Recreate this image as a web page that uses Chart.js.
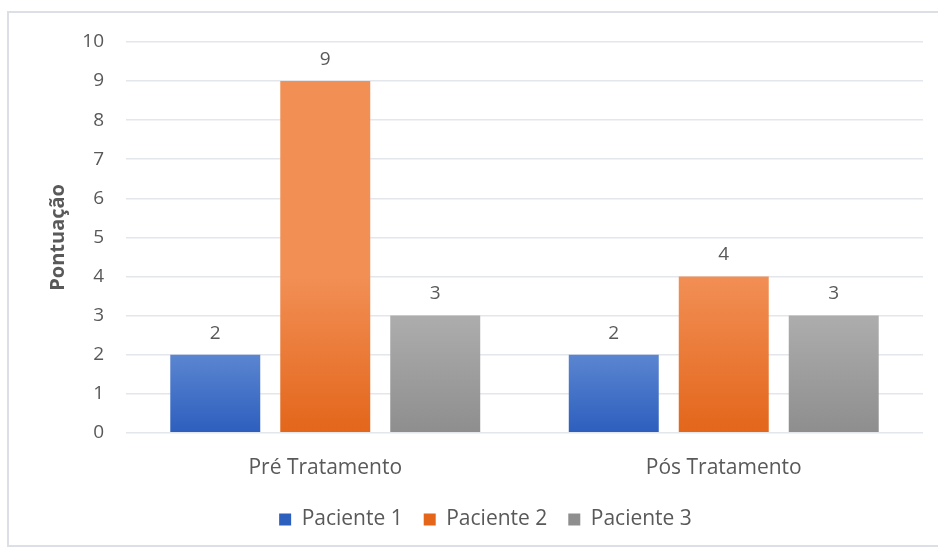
<!DOCTYPE html>
<html>
<head>
<meta charset="utf-8">
<script src="https://cdn.jsdelivr.net/npm/chart.js@4.4.0/dist/chart.umd.min.js"></script>
<style>
    html, body { margin: 0; padding: 0; background: #fff; }
    #wrap { position: relative; width: 938px; height: 550px; overflow: hidden; }
    #frame { position: absolute; left: 7px; top: 11px; width: 940px; height: 536px; border: 2px solid #dcdfe6; box-sizing: border-box; }
    #chart { position: absolute; left: 0; top: 0; }
</style>
</head>
<body>
<div id="wrap">
    <div id="frame"></div>
    <canvas id="chart" width="938" height="550"></canvas>
</div>
<script>
// chart data
const categories = ['Pré Tratamento', 'Pós Tratamento'];
const seriesNames = ['Paciente 1', 'Paciente 2', 'Paciente 3'];
const paciente1 = [2, 2];
const paciente2 = [9, 4];
const paciente3 = [3, 3];
const yTicks = [0, 1, 2, 3, 4, 5, 6, 7, 8, 9, 10];

const textColor = '#595959';
const fontFamily = '"Open Sans", sans-serif';

// top / bottom colours of each series gradient
const gradColors = [
    ['#5b85d0', '#2d5fbe'],
    ['#f28f55', '#e3661b'],
    ['#adadad', '#8e8e8e']
];

// per-bar vertical gradient, like the Excel original
const barGradient = {
    id: 'barGradient',
    beforeDatasetsDraw(chart) {
        const ctx = chart.ctx;
        chart.data.datasets.forEach(function(ds, i) {
            const meta = chart.getDatasetMeta(i);
            meta.data.forEach(function(bar) {
                const g = ctx.createLinearGradient(0, bar.y, 0, bar.base);
                g.addColorStop(0, gradColors[i][0]);
                g.addColorStop(1, gradColors[i][1]);
                bar.options.backgroundColor = g;
            });
        });
    }
};

// value labels above the bars
const valueLabels = {
    id: 'valueLabels',
    afterDatasetsDraw(chart) {
        const ctx = chart.ctx;
        ctx.save();
        ctx.fillStyle = textColor;
        ctx.font = '19px ' + fontFamily;
        ctx.textAlign = 'center';
        ctx.textBaseline = 'bottom';
        chart.data.datasets.forEach(function(ds, i) {
            const meta = chart.getDatasetMeta(i);
            meta.data.forEach(function(bar, j) {
                ctx.fillText(ds.data[j], bar.x, bar.y - 12);
            });
        });
        ctx.restore();
    }
};

// the original chart was cropped on the right, so its legend sits a bit off centre
const legendShift = {
    id: 'legendShift',
    afterLayout(chart) {
        const lg = chart.legend;
        lg.left += 24;
        lg.right += 24;
        lg.top -= 8;
        lg.bottom -= 8;
    }
};

const ctx = document.getElementById('chart').getContext('2d');
const chart = new Chart(ctx, {
    type: 'bar',
    data: {
        labels: categories,
        datasets: [
            { label: seriesNames[0], data: paciente1, backgroundColor: gradColors[0][1] },
            { label: seriesNames[1], data: paciente2, backgroundColor: gradColors[1][1] },
            { label: seriesNames[2], data: paciente3, backgroundColor: gradColors[2][1] }
        ]
    },
    options: {
        responsive: false,
        animation: false,
        events: [],
        categoryPercentage: 0.828,
        barPercentage: 0.818,
        layout: {
            padding: { top: 42, right: 15, left: 0, bottom: 2 }
        },
        scales: {
            x: {
                grid: { display: false },
                border: { display: false },
                ticks: {
                    color: textColor,
                    font: { size: 21, family: fontFamily },
                    padding: 15
                }
            },
            y: {
                min: 0,
                max: 10,
                afterBuildTicks(scale) {
                    scale.ticks = yTicks.map(function(v) { return { value: v }; });
                },
                afterFit(scale) {
                    scale.width = 126;
                },
                grid: {
                    color: '#e3e6eb',
                    lineWidth: 1.5,
                    drawTicks: false
                },
                border: { display: false },
                ticks: {
                    color: textColor,
                    font: { size: 19, family: fontFamily },
                    padding: 22
                },
                title: {
                    display: true,
                    text: 'Pontuação',
                    color: textColor,
                    font: { size: 20, weight: 'bold', family: fontFamily },
                    padding: { top: 46, bottom: 0 }
                }
            }
        },
        plugins: {
            legend: {
                position: 'bottom',
                labels: {
                    color: textColor,
                    font: { size: 21, family: fontFamily },
                    boxWidth: 12,
                    boxHeight: 12,
                    padding: 21
                }
            },
            tooltip: { enabled: false }
        }
    },
    plugins: [barGradient, valueLabels, legendShift]
});
</script>
</body>
</html>
